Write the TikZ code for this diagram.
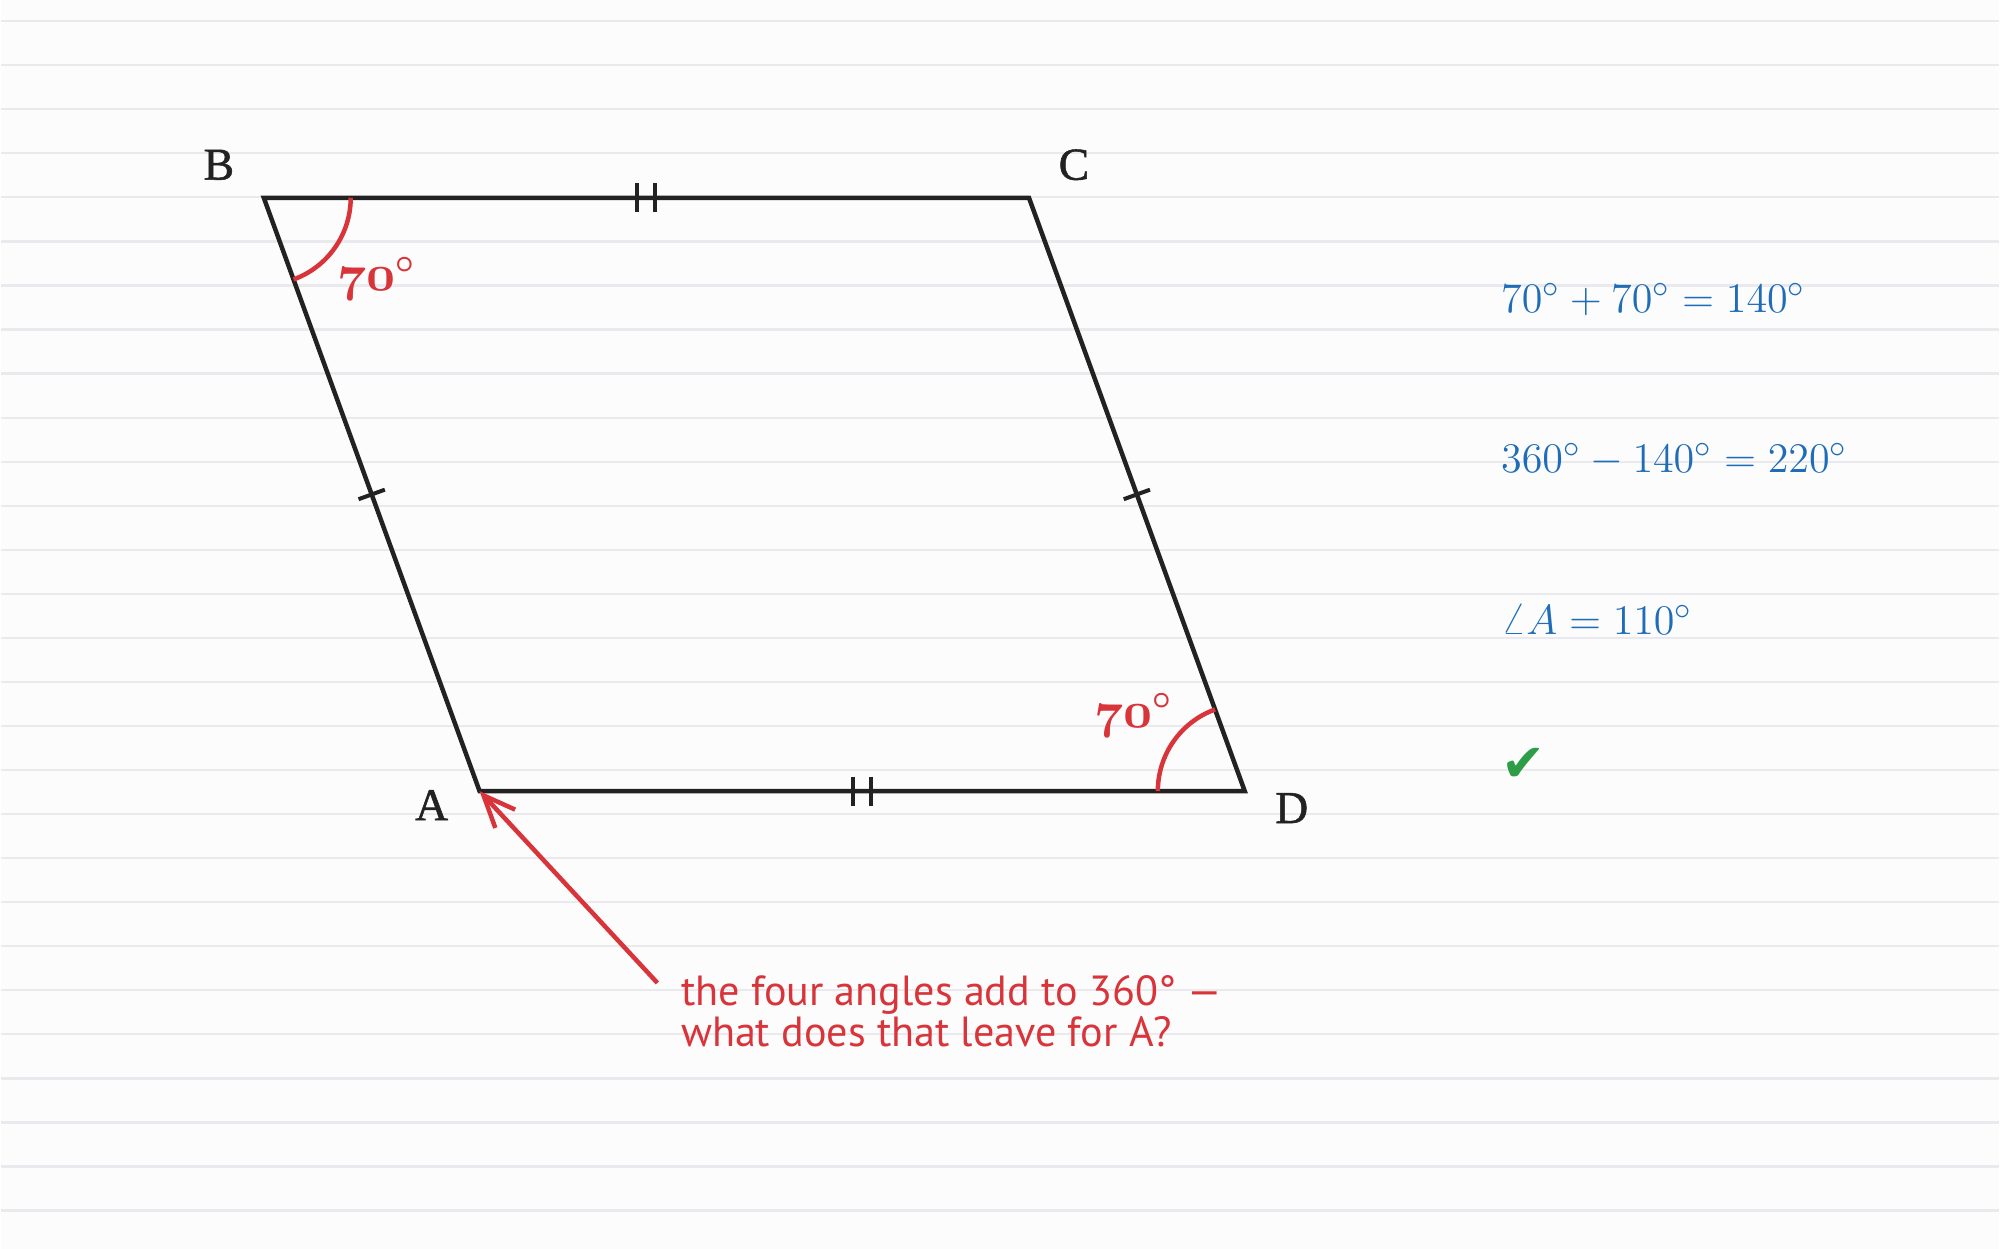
\documentclass[tikz,border=0pt]{standalone}
\usepackage{fontspec}
\newfontfamily\handfont{PT Sans}
\newfontfamily\symfont{DejaVu Sans}
\newfontfamily\labelfont[FakeBold=1.2]{Liberation Serif}
\usetikzlibrary{calc,arrows.meta}
\definecolor{paper}{HTML}{FCFCFD}
\definecolor{ruledgray}{HTML}{EAEAEE}
\definecolor{ink}{HTML}{222222}
\definecolor{penred}{HTML}{D8343A}
\definecolor{penblue}{HTML}{1F6DB8}
\definecolor{pengreen}{HTML}{2E9E46}
\tikzset{
  ruling/.style={draw=ruledgray, line width=0.022cm},
  edge/.style={draw=ink, line width=0.045cm},
  tickmark/.style={draw=ink, line width=0.04cm},
  anglearc/.style={draw=penred, line width=0.045cm},
  vertex/.style={text=ink, inner sep=0pt, font=\labelfont\fontsize{13}{15}\selectfont},
  anglelabel/.style={text=penred, inner sep=0pt, font=\boldmath\fontsize{13.5}{15}\selectfont},
  eqn/.style={text=penblue, inner sep=0pt, anchor=base west, font=\fontsize{12.2}{14}\selectfont},
  hint/.style={text=penred, inner sep=0pt, align=left, font=\handfont\fontsize{12}{11.7}\selectfont},
  pointer/.style={draw=penred, line width=0.045cm, -{Straight Barb[length=0.32cm, width=0.27cm]}}
}
\begin{document}
\begin{tikzpicture}
  \fill[paper] (0,0) rectangle (20,12.5);
  \foreach \k in {0,...,27}
    \draw[ruling] (0,12.288-0.441*\k) -- (20,12.288-0.441*\k);

  \coordinate (A) at (4.79,4.58);
  \coordinate (B) at (2.63,10.52);
  \coordinate (C) at (10.29,10.52);
  \coordinate (D) at (12.45,4.58);
  \draw[edge] (A) -- (B) -- (C) -- (D) -- cycle;

  \coordinate (mAB) at ($(A)!0.5!(B)$);
  \coordinate (mCD) at ($(C)!0.5!(D)$);
  \coordinate (mBC) at ($(B)!0.5!(C)$);
  \coordinate (mAD) at ($(A)!0.5!(D)$);
  \draw[tickmark] ($(mAB)!0.14cm!90:(B)$) -- ($(mAB)!0.14cm!-90:(B)$);
  \draw[tickmark] ($(mCD)!0.14cm!90:(D)$) -- ($(mCD)!0.14cm!-90:(D)$);
  \foreach \dx in {-0.09,0.09} {
    \draw[tickmark] ($(mBC)+(\dx,0.145)$) -- ($(mBC)+(\dx,-0.145)$);
    \draw[tickmark] ($(mAD)+(\dx,0.145)$) -- ($(mAD)+(\dx,-0.145)$);
  }

  \draw[anglearc] ($(B)+(0.87,0)$) arc[start angle=0, end angle=-70, radius=0.87];
  \draw[anglearc] ($(D)+(110:0.87)$) arc[start angle=110, end angle=180, radius=0.87];
  \node[anglelabel] (angB) at (3.76,9.71) {$\mathnormal{70}^{\circ}$};
  \node[anglelabel] (angD) at (11.34,5.34) {$\mathnormal{70}^{\circ}$};

  \node[vertex] (labA) at (4.31,4.44) {A};
  \node[vertex] (labB) at (2.18,10.85) {B};
  \node[vertex] (labC) at (10.74,10.85) {C};
  \node[vertex] (labD) at (12.92,4.41) {D};

  \node[hint, anchor=north west] (hint) at (6.80,2.74) {the four angles add to 360° —\\what does that leave for A?};
  \coordinate (tail) at (6.57,2.66);
  \draw[pointer] (tail) -- (A);

  \node[eqn] (sum) at (15.01,9.37) {$70^\circ + 70^\circ = 140^\circ$};
  \node[eqn] (rest) at (15.01,7.77) {$360^\circ - 140^\circ = 220^\circ$};
  \node[eqn] (angA) at (15.01,6.15) {$\angle A = 110^\circ$};
  \node[text=pengreen, inner sep=0pt, anchor=base west, font=\symfont\fontsize{15}{17}\selectfont] (check) at (15.01,4.68) {✔};
\end{tikzpicture}
\end{document}
